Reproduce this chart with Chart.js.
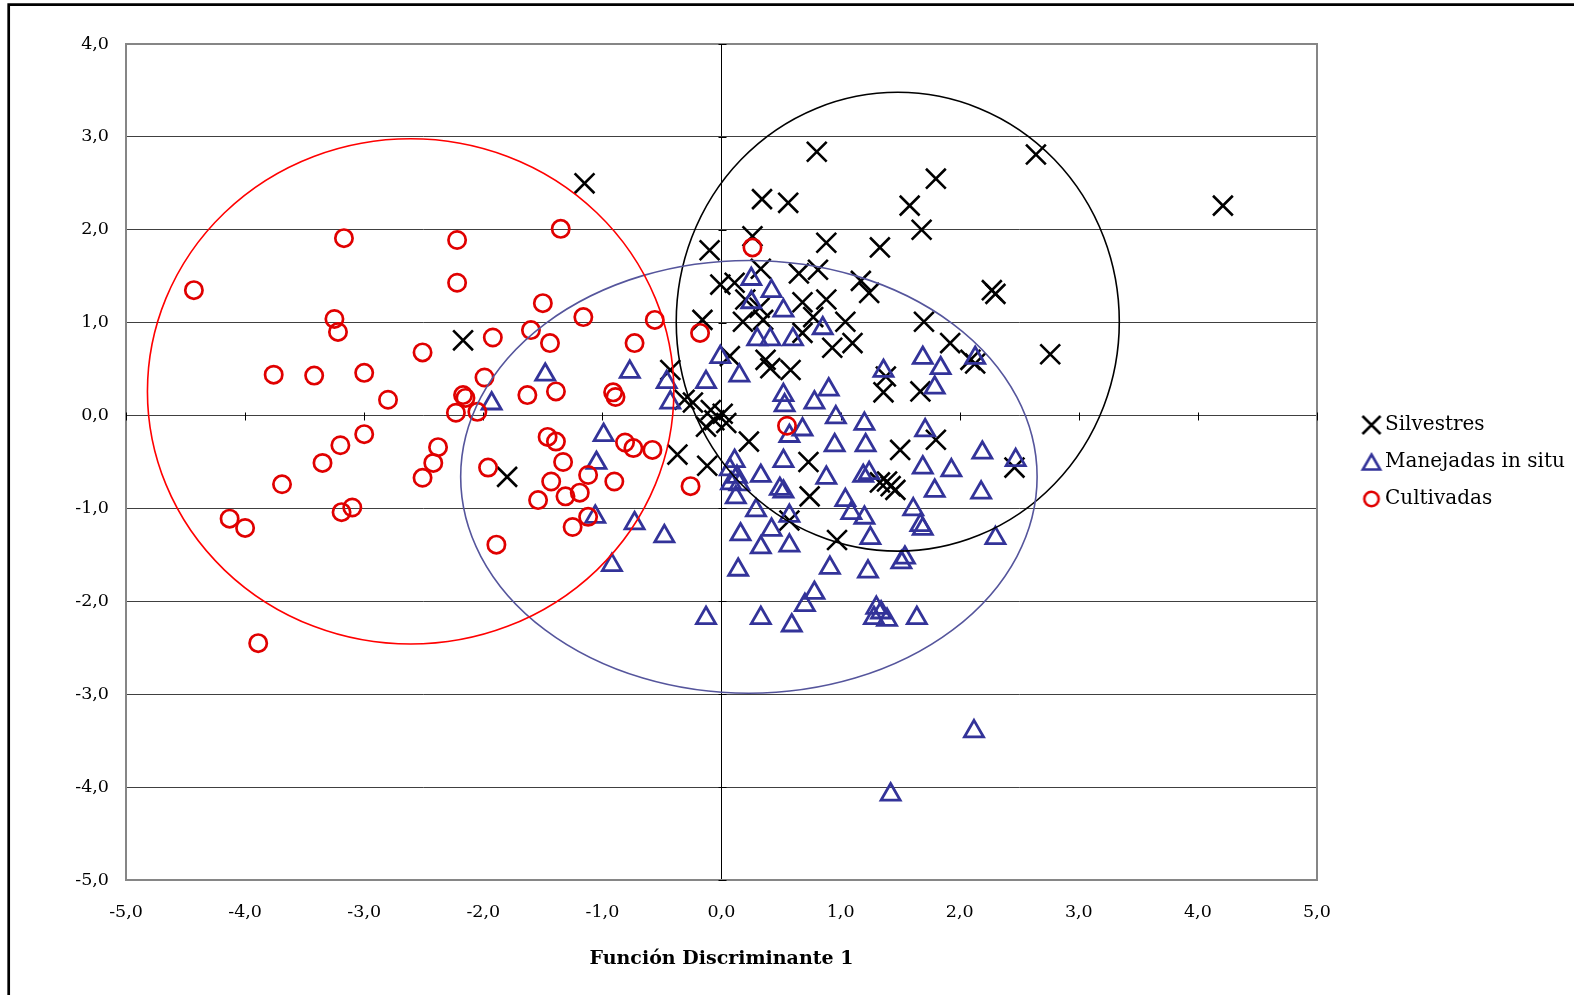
<!DOCTYPE html>
<html>
<head>
<meta charset="utf-8">
<title>Función Discriminante 1</title>
<script src="https://cdn.jsdelivr.net/npm/chart.js@4/dist/chart.umd.min.js"></script>
<style>
  html, body { margin: 0; padding: 0; background: #ffffff; }
  canvas { display: block; }
</style>
</head>
<body>
<canvas id="chart" width="1574" height="995"></canvas>
<script>
// ---- data -------------------------------------------------------------
const seriesNames = ['Silvestres', 'Manejadas in situ', 'Cultivadas'];

const silvestresX = [-1.15,-2.17,-1.80,4.21,2.64,2.76,0.80,1.80,1.58,1.68,0.34,0.56,0.26,-0.10,0.88,1.33,2.27,2.30,1.17,1.24,
  0.81,0.65,0.33,-0.01,0.11,0.20,0.32,0.68,0.88,-0.16,0.18,0.35,0.77,1.04,1.70,1.10,0.93,0.68,0.37,0.41,
  0.58,0.07,-0.43,1.38,1.36,1.67,1.92,2.09,2.13,-0.31,-0.24,-0.09,0.01,-0.06,0.04,-0.13,0.23,-0.37,-0.12,0.73,
  1.50,1.80,2.46,1.33,1.39,1.42,1.46,0.74,0.57,0.97];
const silvestresY = [2.50,0.81,-0.66,2.26,2.81,0.66,2.84,2.55,2.26,2.00,2.33,2.29,1.93,1.78,1.86,1.81,1.35,1.31,1.45,1.32,
  1.57,1.53,1.58,1.41,1.43,1.25,1.16,1.22,1.25,1.03,1.01,1.03,1.06,1.01,1.01,0.78,0.73,0.89,0.60,0.51,
  0.49,0.64,0.49,0.42,0.25,0.26,0.78,0.60,0.56,0.17,0.14,0.06,0.02,-0.05,-0.08,-0.12,-0.28,-0.42,-0.54,-0.50,
  -0.37,-0.26,-0.56,-0.72,-0.71,-0.76,-0.80,-0.87,-1.13,-1.34];

const manejadasX = [1.42,2.12,-0.13,0.33,0.59,0.70,0.78,1.30,1.28,1.34,1.39,1.64,0.14,0.91,1.23,1.51,1.54,0.57,0.33,0.16,
  0.42,0.29,0.57,1.25,2.30,1.67,1.69,1.61,1.20,1.09,1.04,1.79,2.18,1.69,1.93,2.47,2.19,1.71,1.21,0.95,
  0.88,1.19,1.24,1.20,0.96,0.68,0.57,0.52,0.33,0.49,0.52,0.11,0.07,0.13,0.08,0.15,0.12,0.53,0.52,0.78,
  0.90,1.36,1.69,1.84,2.13,1.79,0.85,0.60,0.41,0.30,0.52,0.25,0.42,0.25,-0.01,0.15,-0.13,-0.46,-0.43,-0.77,
  -1.48,-1.93,-0.99,-1.05,-1.06,-0.73,-0.48,-0.92];
const manejadasY = [-4.08,-3.40,-2.18,-2.18,-2.26,-2.04,-1.91,-2.07,-2.18,-2.12,-2.20,-2.18,-1.66,-1.64,-1.68,-1.58,-1.53,-1.40,-1.42,-1.28,
  -1.23,-1.02,-1.08,-1.32,-1.32,-1.18,-1.22,-1.01,-1.10,-1.05,-0.91,-0.81,-0.83,-0.56,-0.59,-0.48,-0.40,-0.16,-0.32,-0.32,
  -0.67,-0.65,-0.62,-0.09,-0.02,-0.15,-0.22,-0.49,-0.65,-0.79,-0.82,-0.49,-0.58,-0.66,-0.73,-0.74,-0.88,0.11,0.22,0.14,
  0.28,0.48,0.62,0.51,0.62,0.30,0.94,0.82,0.82,0.82,1.13,1.22,1.34,1.47,0.63,0.43,0.36,0.36,0.14,0.47,
  0.44,0.13,-0.21,-0.51,-1.09,-1.16,-1.30,-1.61];

const cultivadasX = [-4.43,-4.13,-4.00,-3.89,-3.76,-3.69,-3.42,-3.35,-3.25,-3.22,-3.20,-3.19,-3.17,-3.10,-3.00,-3.00,-2.80,-2.51,-2.51,-2.42,
  -2.38,-2.22,-2.22,-2.23,-2.17,-2.15,-2.05,-1.99,-1.96,-1.92,-1.89,-1.60,-1.63,-1.54,-1.50,-1.46,-1.44,-1.43,-1.39,-1.39,
  -1.35,-1.33,-1.31,-1.25,-1.19,-1.16,-1.12,-1.12,-0.91,-0.89,-0.90,-0.81,-0.74,-0.73,-0.56,-0.58,-0.26,-0.18,0.26,0.55];
const cultivadasY = [1.35,-1.11,-1.21,-2.45,0.44,-0.74,0.43,-0.51,1.04,0.90,-0.32,-1.04,1.91,-0.99,-0.20,0.46,0.17,0.68,-0.67,-0.51,
  -0.34,1.89,1.43,0.03,0.22,0.19,0.04,0.41,-0.56,0.84,-1.39,0.92,0.22,-0.91,1.21,-0.23,0.78,-0.71,0.26,-0.28,
  2.01,-0.50,-0.87,-1.20,-0.83,1.06,-1.09,-0.64,0.25,0.20,-0.71,-0.29,-0.35,0.78,1.03,-0.37,-0.76,0.89,1.81,-0.11];

// group ellipses (same order as seriesNames): centre and semi-axes in axis units
const ellipseCenterX = [1.48, 0.23, -2.61];
const ellipseCenterY = [1.01, -0.66, 0.26];
const ellipseRadiusX = [1.86, 2.42, 2.21];
const ellipseRadiusY = [2.47, 2.33, 2.72];

const xTickValues = [-5, -4, -3, -2, -1, 0, 1, 2, 3, 4, 5];
const xTickLabels = ['-5,0', '-4,0', '-3,0', '-2,0', '-1,0', '0,0', '1,0', '2,0', '3,0', '4,0', '5,0'];
const yTickValues = [-5, -4, -3, -2, -1, 0, 1, 2, 3, 4];
const yTickLabels = ['-5,0', '-4,0', '-3,0', '-2,0', '-1,0', '0,0', '1,0', '2,0', '3,0', '4,0'];

const xAxisTitle = 'Función Discriminante 1';

// ---- styles -----------------------------------------------------------
const FONT = '"DejaVu Serif", "Liberation Serif", serif';
const seriesColors = ['#000000', '#333399', '#e00000'];
const ellipseColors = ['#000000', '#55559c', '#ff0000'];

function toPoints(xs, ys) {
  return xs.map((x, i) => ({ x: x, y: ys[i] }));
}

// small canvases used as legend symbols
function legendSymbol(kind, color) {
  const c = document.createElement('canvas');
  c.width = 80; c.height = 30;
  const g = c.getContext('2d');
  const mx = 57, my = 15;
  g.strokeStyle = color;
  g.lineJoin = 'miter';
  g.lineWidth = 2.6;
  g.beginPath();
  if (kind === 'cross') {
    g.moveTo(mx - 9, my - 9); g.lineTo(mx + 9, my + 9);
    g.moveTo(mx - 9, my + 9); g.lineTo(mx + 9, my - 9);
  } else if (kind === 'triangle') {
    const r = 10, cy = my + 2.5;
    g.moveTo(mx, cy - r);
    g.lineTo(mx + r * 0.866, cy + r / 2);
    g.lineTo(mx - r * 0.866, cy + r / 2);
    g.closePath();
  } else {
    g.arc(mx, my, 7.2, 0, Math.PI * 2);
  }
  g.stroke();
  return c;
}
const legendSymbols = [
  legendSymbol('cross', seriesColors[0]),
  legendSymbol('triangle', seriesColors[1]),
  legendSymbol('circle', seriesColors[2])
];

// outer frame of the figure (left and top edges)
const figureFrame = {
  id: 'figureFrame',
  afterDraw(chart) {
    const ctx = chart.ctx;
    ctx.save();
    ctx.strokeStyle = '#000000';
    ctx.lineWidth = 2.7;
    ctx.beginPath();
    ctx.moveTo(8.7, chart.height + 2);
    ctx.lineTo(8.7, 4.7);
    ctx.lineTo(chart.width + 2, 4.7);
    ctx.stroke();
    ctx.restore();
  }
};

// plot border, zero axes and cross tick marks
const plotFrame = {
  id: 'plotFrame',
  beforeDatasetsDraw(chart) {
    const { ctx, chartArea: a, scales: { x, y } } = chart;
    ctx.save();
    ctx.strokeStyle = '#868686';
    ctx.lineWidth = 2;
    ctx.strokeRect(a.left, a.top, a.right - a.left, a.bottom - a.top);

    const x0 = Math.round(x.getPixelForValue(0)) + 0.5;
    const y0 = Math.round(y.getPixelForValue(0)) + 0.5;
    ctx.strokeStyle = '#000000';
    ctx.lineWidth = 1;
    ctx.beginPath();
    xTickValues.forEach(v => {
      const px = Math.round(x.getPixelForValue(v)) + 0.5;
      ctx.moveTo(px, y0 - 4); ctx.lineTo(px, y0 + 4);
    });
    yTickValues.forEach(v => {
      const py = Math.round(y.getPixelForValue(v)) + 0.5;
      ctx.moveTo(x0 - 4, py); ctx.lineTo(x0 + 4, py);
    });
    ctx.stroke();
    ctx.restore();
  }
};

// group ellipses drawn over the markers
const groupEllipses = {
  id: 'groupEllipses',
  afterDatasetsDraw(chart) {
    const { ctx, scales: { x, y } } = chart;
    ctx.save();
    ctx.lineWidth = 1.6;
    ellipseCenterX.forEach((cxv, i) => {
      const cx = x.getPixelForValue(cxv);
      const cy = y.getPixelForValue(ellipseCenterY[i]);
      const rx = Math.abs(x.getPixelForValue(cxv + ellipseRadiusX[i]) - cx);
      const ry = Math.abs(y.getPixelForValue(ellipseCenterY[i] + ellipseRadiusY[i]) - cy);
      ctx.strokeStyle = ellipseColors[i];
      ctx.beginPath();
      ctx.ellipse(cx, cy, rx, ry, 0, 0, Math.PI * 2);
      ctx.stroke();
    });
    ctx.restore();
  }
};

Chart.defaults.font.family = FONT;
Chart.defaults.color = '#000000';

new Chart(document.getElementById('chart'), {
  type: 'scatter',
  data: {
    datasets: [
      {
        label: seriesNames[0],
        data: toPoints(silvestresX, silvestresY),
        pointStyle: 'crossRot',
        pointRadius: 14,
        borderColor: seriesColors[0],
        backgroundColor: 'rgba(0,0,0,0)',
        pointBorderWidth: 2.6,
        order: 3
      },
      {
        label: seriesNames[1],
        data: toPoints(manejadasX, manejadasY),
        pointStyle: 'triangle',
        pointRadius: 11,
        borderColor: seriesColors[1],
        backgroundColor: 'rgba(0,0,0,0)',
        pointBorderWidth: 2.8,
        order: 2
      },
      {
        label: seriesNames[2],
        data: toPoints(cultivadasX, cultivadasY),
        pointStyle: 'circle',
        pointRadius: 8.65,
        borderColor: seriesColors[2],
        backgroundColor: 'rgba(0,0,0,0)',
        pointBorderWidth: 2.7,
        order: 1
      }
    ]
  },
  options: {
    responsive: false,
    animation: false,
    devicePixelRatio: 1,
    events: [],
    layout: { padding: { top: 44, left: 0, right: 0, bottom: 0 } },
    scales: {
      x: {
        type: 'linear',
        min: -5,
        max: 5,
        afterFit(scale) { scale.height = 115; },
        afterBuildTicks(scale) { scale.ticks = xTickValues.map(v => ({ value: v })); },
        ticks: {
          autoSkip: false,
          maxRotation: 0,
          padding: 22,
          color: '#000000',
          font: { family: FONT, size: 17.5 },
          callback: (value, index) => xTickLabels[index]
        },
        grid: {
          drawTicks: false,
          lineWidth: 1,
          color: (c) => (c.tick && c.tick.value === 0 ? '#000000' : 'rgba(0,0,0,0)')
        },
        border: { display: false },
        title: {
          display: true,
          text: xAxisTitle,
          color: '#000000',
          font: { family: FONT, size: 19, weight: 'bold' },
          padding: { top: 0, bottom: 25 }
        }
      },
      y: {
        type: 'linear',
        min: -5,
        max: 4,
        afterFit(scale) { scale.width = 126; },
        afterBuildTicks(scale) { scale.ticks = yTickValues.map(v => ({ value: v })); },
        ticks: {
          autoSkip: false,
          padding: 17,
          color: '#000000',
          font: { family: FONT, size: 17.5 },
          callback: (value, index) => yTickLabels[index]
        },
        grid: {
          drawTicks: false,
          lineWidth: 1,
          color: '#404040'
        },
        border: { display: false }
      }
    },
    plugins: {
      tooltip: { enabled: false },
      legend: {
        display: true,
        position: 'right',
        align: 'center',
        fullSize: false,
        maxWidth: 257,
        labels: {
          usePointStyle: true,
          pointStyleWidth: 41,
          padding: 17,
          color: '#000000',
          font: { family: FONT, size: 20 },
          generateLabels(chart) {
            const items = Chart.defaults.plugins.legend.labels.generateLabels(chart);
            items.sort((a, b) => a.datasetIndex - b.datasetIndex);
            items.forEach(it => {
              it.pointStyle = legendSymbols[it.datasetIndex];
              it.fontColor = '#000000';
            });
            return items;
          }
        }
      }
    }
  },
  plugins: [plotFrame, groupEllipses, figureFrame]
});
</script>
</body>
</html>
